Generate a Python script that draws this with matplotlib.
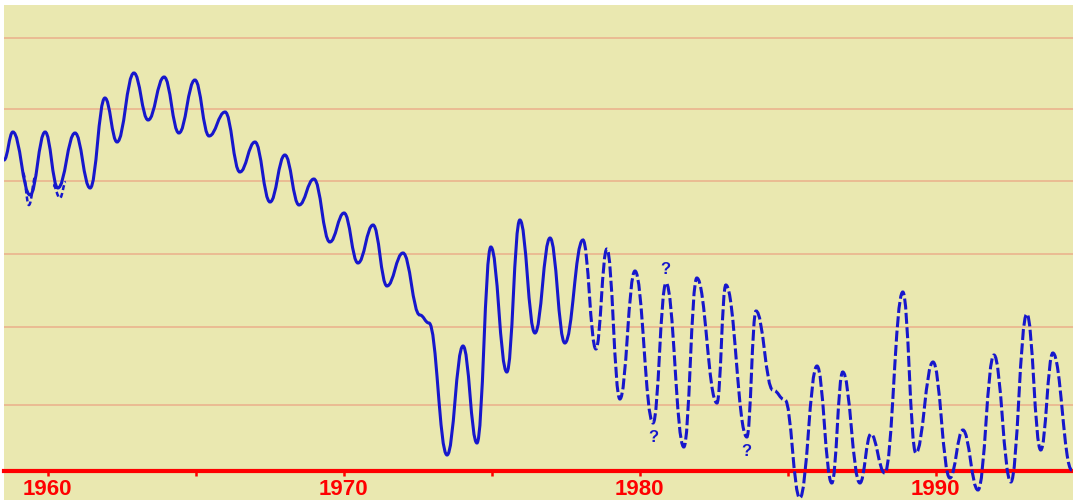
import matplotlib
matplotlib.use("Agg")
import matplotlib.pyplot as plt
from matplotlib.path import Path
from matplotlib.patches import PathPatch

# peaks / troughs (year, level above the red base line)
solid_years = [1958.52, 1958.82, 1959.40, 1959.91, 1960.34, 1960.92, 1961.43, 1961.93,
               1962.34, 1962.91, 1963.39, 1963.93, 1964.43, 1964.97, 1965.45, 1965.99,
               1966.49, 1967.00, 1967.51, 1968.01, 1968.49, 1968.99, 1969.53, 1970.01,
               1970.48, 1970.99, 1971.46, 1972.00, 1972.57, 1972.88, 1973.49, 1974.03,
               1974.50, 1974.97, 1975.51, 1975.95, 1976.46, 1976.97, 1977.47, 1978.08]
solid_levels = [311, 339, 276, 339, 283, 338, 283, 373,
                329, 398, 351, 394, 338, 391, 335, 359,
                299, 329, 269, 316, 266, 292, 229, 258,
                208, 246, 185, 218, 156, 148, 16, 125,
                28, 224, 99, 251, 138, 233, 128, 231]

dashed_years = [1978.08, 1978.52, 1978.89, 1979.33, 1979.84, 1980.45, 1980.89, 1981.49,
                1981.93, 1982.61, 1982.91, 1983.62, 1983.93, 1984.50, 1984.91, 1985.41,
                1985.99, 1986.49, 1986.86, 1987.44, 1987.81, 1988.28, 1988.89, 1989.33,
                1989.91, 1990.48, 1990.92, 1991.43, 1991.97, 1992.54, 1993.08, 1993.55,
                1993.96, 1994.60]
dashed_levels = [231, 122, 222, 72, 200, 48, 188, 24,
                 193, 68, 186, 34, 160, 81, 71, -27,
                 105, -12, 99, -12, 37, -2, 179, 18,
                 109, -7, 41, -19, 116, -11, 157, 21,
                 118, 1]

# second (dashed) trace under the first two troughs
alt_years = [[1959.16, 1959.36, 1959.60], [1960.18, 1960.41, 1960.61]]
alt_levels = [[298, 266, 296], [286, 273, 289]]

# "?" marks
q_years = [1980.45, 1980.85, 1983.62]
q_levels = [34, 201, 19]

grid_levels = [66, 144, 217, 290, 362, 433]
major_ticks = [1960, 1970, 1980, 1990]
minor_ticks = [1965, 1975, 1985]

BLUE = "#1717cc"


def wave_path(xs, ys, k=0.42):
    # smooth curve through the extrema, flat at each turning point
    verts = [(xs[0], ys[0])]
    codes = [Path.MOVETO]
    for i in range(1, len(xs)):
        dx = xs[i] - xs[i - 1]
        verts += [(xs[i - 1] + k * dx, ys[i - 1]), (xs[i] - k * dx, ys[i]), (xs[i], ys[i])]
        codes += [Path.CURVE4] * 3
    return Path(verts, codes)


fig = plt.figure(figsize=(10.73, 5.0), dpi=100, facecolor="white")
ax = fig.add_axes([4 / 1073, 0, 1 - 4 / 1073, 495 / 500])
ax.set_facecolor("#eae8b0")
ax.set_xlim(1958.52, 1994.64)
ax.set_ylim(-29, 466)

ax.set_yticks(grid_levels)
ax.yaxis.grid(True, color="#eab48e", linewidth=1.2)
ax.tick_params(axis="y", length=0, labelleft=False)
ax.set_axisbelow(True)

for s in ["top", "left", "right"]:
    ax.spines[s].set_visible(False)
ax.spines["bottom"].set_position(("data", 0))
ax.spines["bottom"].set_color("#ff0000")
ax.spines["bottom"].set_linewidth(3)
ax.spines["bottom"].set_zorder(2)

ax.set_xticks(major_ticks)
ax.set_xticks(minor_ticks, minor=True)
ax.tick_params(axis="x", which="both", colors="#ff0000", direction="out",
               length=3.5, width=1.8, pad=2)
ax.set_xticklabels([str(y) for y in major_ticks], fontsize=16,
                   fontweight="bold", family="Liberation Sans")

ax.add_patch(PathPatch(wave_path(solid_years, solid_levels), fill=False,
                       edgecolor=BLUE, linewidth=2.2, zorder=3, capstyle="round"))
ax.add_patch(PathPatch(wave_path(dashed_years, dashed_levels), fill=False,
                       edgecolor=BLUE, linewidth=2.2, zorder=3,
                       linestyle=(0, (3.6, 1.1))))
for xs, ys in zip(alt_years, alt_levels):
    ax.add_patch(PathPatch(wave_path(xs, ys), fill=False, edgecolor=BLUE,
                           linewidth=1.8, zorder=3, linestyle=(0, (2, 1.2))))

for x, y in zip(q_years, q_levels):
    ax.text(x, y, "?", color=BLUE, fontsize=12, fontweight="bold",
            family="Liberation Sans", ha="center", va="center", zorder=4)

fig.savefig("out.png", dpi=100, facecolor="white")
